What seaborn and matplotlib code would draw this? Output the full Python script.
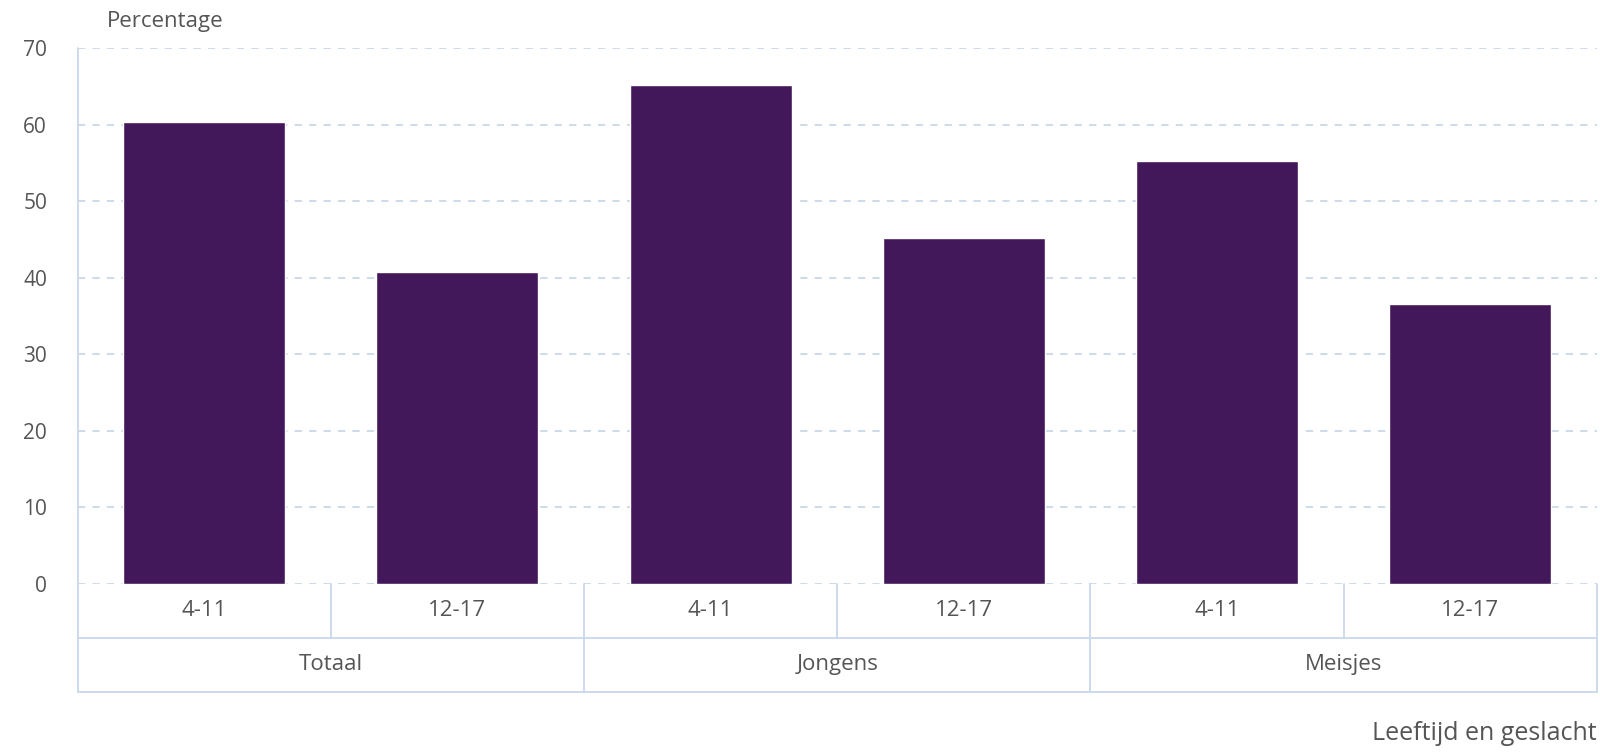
import matplotlib
matplotlib.use("Agg")
import matplotlib.pyplot as plt
import seaborn as sns
import pandas as pd

groups = ["Totaal", "Totaal", "Jongens", "Jongens", "Meisjes", "Meisjes"]
ages = ["4-11", "12-17", "4-11", "12-17", "4-11", "12-17"]
values = [60.3, 40.8, 65.2, 45.2, 55.3, 36.5]
group_labels = ["Totaal", "Jongens", "Meisjes"]
yticks = [0, 10, 20, 30, 40, 50, 60, 70]

sns.set_theme(style="white")
plt.rcParams['font.family'] = ['Open Sans', 'DejaVu Sans']

df = pd.DataFrame({"key": [f"{g} {a}" for g, a in zip(groups, ages)],
                   "value": values})

fig = plt.figure(figsize=(16, 7.53), dpi=100)
ax = fig.add_axes([0.0485, 0.225, 0.9495, 0.711])

bar_color = "#42185a"
grid_color = "#c9d8e8"
line_color = "#c9d8ee"
text_color = "#555555"

sns.barplot(data=df, x="key", y="value", color=bar_color, width=0.64,
            saturation=1, ax=ax, zorder=3)

ax.set_xlim(-0.5, 5.5)
ax.set_ylim(0, 70)
ax.set_yticks(yticks)
ax.set_yticklabels([str(t) for t in yticks], color=text_color, fontsize=15)
ax.tick_params(axis="y", length=0, pad=22)
ax.set_xticks([])
ax.set_xlabel("")
ax.set_ylabel("")
for s in ["top", "right", "bottom", "left"]:
    ax.spines[s].set_visible(False)

for t in yticks:
    ax.axhline(t, color=grid_color, lw=1.3, ls=(0, (4, 4)), zorder=1)

row1 = -0.1016
row2 = -0.2024
trans = ax.transAxes
kw = dict(color=line_color, lw=1.3, transform=trans, clip_on=False, zorder=2)
ax.plot([0, 0], [row2, 1.0], **kw)
ax.plot([1, 1], [row2, 0], **kw)
ax.plot([0, 1], [row1, row1], **kw)
ax.plot([0, 1], [row2, row2], **kw)
n = len(ages)
for i in range(1, n):
    x = i / n
    if i % 2 == 0:
        ax.plot([x, x], [row2, 0], **kw)
    else:
        ax.plot([x, x], [row1, 0], **kw)

for i, a in enumerate(ages):
    ax.text((i + 0.5) / n, row1 / 2, a, transform=trans, ha="center", va="center",
            fontsize=16, color=text_color)
for j, g in enumerate(group_labels):
    ax.text((j + 0.5) / 3, (row1 + row2) / 2, g, transform=trans, ha="center",
            va="center", fontsize=16, color=text_color)

fig.text(107 / 1600, 1 - 22 / 753, "Percentage", ha="left", va="center",
         fontsize=16, color=text_color)
fig.text(1597 / 1600, 1 - 733 / 753, "Leeftijd en geslacht", ha="right",
         va="center", fontsize=18, color=text_color)

fig.savefig("out.png", dpi=100, facecolor="white")
